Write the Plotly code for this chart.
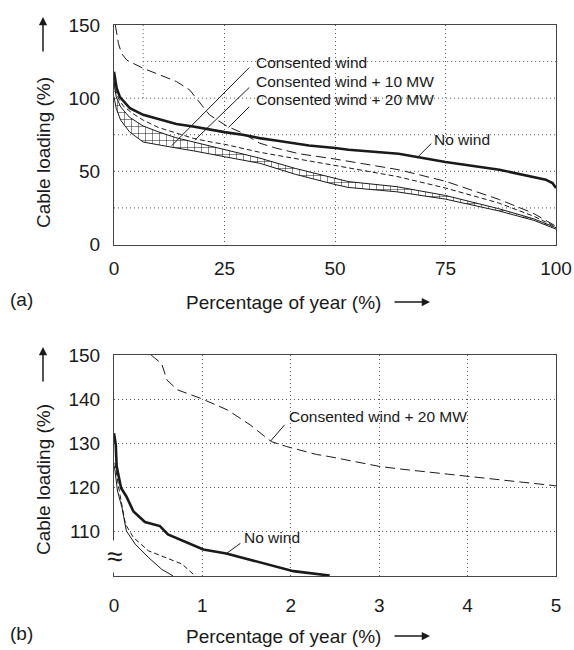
import plotly.graph_objects as go

# ---------------- data: panel (a) ----------------
a_nowind_x = [0, 0.6, 1.35, 3.6, 6.6, 10.4, 14.1, 17.9, 21.6, 25, 29.1, 32.9, 36.6, 40.4, 44.1, 50, 53.1, 64.4, 75, 87.2, 94.7, 97.7, 99.2, 100]
a_nowind_y = [118, 106.8, 100.7, 93.1, 88.6, 85.2, 82.4, 80.7, 78.4, 76.8, 75.0, 72.7, 71.1, 69.2, 67.7, 65.9, 64.7, 62, 56.4, 51.1, 46.6, 44.3, 42, 38.6]

a_cw_x = [0, 0.5, 1.5, 3.5, 6.6, 10, 14, 18, 22, 25, 33, 41, 50, 53, 64, 75, 87, 95, 100]
a_cw_hi = [110, 101, 94, 87, 81, 77, 73, 70, 67, 65, 59, 52, 45, 43, 39.5, 33.5, 24.5, 17.5, 11.5]
a_cw_lo = [101, 93, 85, 77, 70, 68, 66, 64, 62, 60, 55.5, 48, 41, 39, 36, 31, 23, 16.5, 10.5]

a_cw10_x = [0, 0.3, 1, 2, 4, 6.6, 10, 14, 18, 22, 25, 33, 42, 50, 64, 75, 87, 95, 100]
a_cw10_y = [112, 106, 100, 95, 90, 85, 80, 76, 72.5, 70, 68.5, 63, 58, 54, 46.5, 38.6, 28.4, 19.3, 12]

a_cw20_x = [0.3, 1, 1.7, 2.9, 6.6, 10.4, 14.1, 17.1, 19.4, 21.6, 25.4, 29.1, 32.9, 36.6, 41.9, 50, 64.4, 75, 87.2, 94.7, 100]
a_cw20_y = [150, 137.5, 130.6, 126, 120.4, 115.9, 111.4, 105.7, 96.6, 88.6, 81.1, 76.1, 69.3, 65.9, 62, 58.4, 51.1, 43.2, 30.7, 21.6, 12.5]

# ---------------- data: panel (b) ----------------
b_nowind_x = [0, 0.02, 0.03, 0.08, 0.14, 0.22, 0.35, 0.52, 0.61, 0.78, 1.01, 1.27, 1.54, 1.8, 2.03, 2.44]
b_nowind_y = [132.3, 129.7, 124.8, 119.9, 118, 114.6, 112.2, 111.3, 109.4, 107.9, 106, 105.1, 103.7, 102.2, 101.1, 100.1]

b_cw_x = [0, 0.01, 0.04, 0.09, 0.14, 0.24, 0.39, 0.54, 0.67]
b_cw_y = [125, 124, 119.2, 115.5, 110.2, 107.2, 104.2, 101.5, 100]

b_cw10_x = [0.01, 0.06, 0.13, 0.22, 0.39, 0.58, 0.77, 0.92]
b_cw10_y = [125.6, 119.2, 111.7, 108.7, 105.7, 104.2, 102.7, 100]

b_cw20_x = [0.42, 0.54, 0.6, 0.72, 0.98, 1.28, 1.54, 1.78, 1.95, 2.29, 2.44, 3.0, 3.24, 4.0, 5.0]
b_cw20_y = [150, 148, 144.3, 142.1, 140.2, 137.6, 134.2, 130.4, 129.3, 127.5, 127, 124.8, 124.2, 122.6, 120.4]

# tick / grid definitions
a_xticks = [0, 25, 50, 75, 100]
a_yticks = [0, 50, 100, 150]
a_ygrid = [25, 50, 75, 100]
a_inset_x = 6.6
b_xticks = [0, 1, 2, 3, 4, 5]
b_yticks = [110, 120, 130, 140, 150]

# ---------------- figure ----------------
W, H = 574, 650
FONT = "Liberation Sans, Arial, sans-serif"
INK = "#1a1a1a"
GRID = "#555555"
GDASH = "1px,3px"

def px(x):
    return x / W

def py(y):
    return 1 - y / H

fig = go.Figure()

line_thin = dict(color=INK, width=1)

# panel (a)
fig.add_trace(go.Scatter(x=a_cw_x, y=a_cw_lo, mode="lines", line=line_thin,
                         xaxis="x", yaxis="y", showlegend=False))
fig.add_trace(go.Scatter(x=a_cw_x, y=a_cw_hi, mode="lines", line=line_thin,
                         fill="tonexty", fillcolor="white",
                         fillpattern=dict(shape="+", size=7, solidity=0.14,
                                          fgcolor=INK, bgcolor="white", fillmode="replace"),
                         xaxis="x", yaxis="y", showlegend=False))
fig.add_trace(go.Scatter(x=a_cw10_x, y=a_cw10_y, mode="lines",
                         line=dict(color=INK, width=1, dash="5px,3px"),
                         xaxis="x", yaxis="y", showlegend=False))
fig.add_trace(go.Scatter(x=a_cw20_x, y=a_cw20_y, mode="lines",
                         line=dict(color=INK, width=1, dash="10px,5px"),
                         xaxis="x", yaxis="y", showlegend=False))
fig.add_trace(go.Scatter(x=a_nowind_x, y=a_nowind_y, mode="lines",
                         line=dict(color=INK, width=2.6),
                         xaxis="x", yaxis="y", showlegend=False))

# panel (b)
fig.add_trace(go.Scatter(x=b_cw_x, y=b_cw_y, mode="lines", line=line_thin,
                         xaxis="x2", yaxis="y2", showlegend=False))
fig.add_trace(go.Scatter(x=b_cw10_x, y=b_cw10_y, mode="lines",
                         line=dict(color=INK, width=1, dash="5px,3px"),
                         xaxis="x2", yaxis="y2", showlegend=False))
fig.add_trace(go.Scatter(x=b_cw20_x, y=b_cw20_y, mode="lines",
                         line=dict(color=INK, width=1, dash="10px,5px"),
                         xaxis="x2", yaxis="y2", showlegend=False))
fig.add_trace(go.Scatter(x=b_nowind_x, y=b_nowind_y, mode="lines",
                         line=dict(color=INK, width=2.6),
                         xaxis="x2", yaxis="y2", showlegend=False))

xdom = [px(114), px(556)]
axis_common = dict(showline=True, linecolor="#444444", linewidth=1, mirror=True,
                   ticks="", zeroline=False, automargin=False,
                   tickfont=dict(family=FONT, size=19, color=INK))

fig.update_layout(
    width=W, height=H,
    margin=dict(l=0, r=0, t=0, b=0, autoexpand=False),
    paper_bgcolor="white", plot_bgcolor="white",
    font=dict(family=FONT, color=INK),
    xaxis=dict(domain=xdom, range=[0, 100], tickvals=a_xticks, anchor="y",
               showgrid=True, gridcolor=GRID, griddash=GDASH, gridwidth=1,
               ticklabelstandoff=7, **axis_common),
    yaxis=dict(domain=[py(244.5), py(25)], range=[0, 150], tickvals=a_yticks, anchor="x",
               showgrid=False, ticklabelstandoff=9, **axis_common),
    xaxis2=dict(domain=xdom, range=[0, 5], tickvals=b_xticks, anchor="y2",
                showgrid=True, gridcolor=GRID, griddash=GDASH, gridwidth=1,
                ticklabelstandoff=12, **axis_common),
    yaxis2=dict(domain=[py(576), py(355)], range=[100, 150], tickvals=b_yticks, anchor="x2",
                showgrid=True, gridcolor=GRID, griddash=GDASH, gridwidth=1,
                ticklabelstandoff=9, **axis_common),
)

# y grid for panel (a) (the 125 line only right of the inset line)
shapes = []
for g in a_ygrid:
    shapes.append(dict(type="line", xref="x", yref="y", x0=0, x1=100, y0=g, y1=g,
                       line=dict(color=GRID, width=1, dash=GDASH), layer="below"))
shapes.append(dict(type="line", xref="x", yref="y", x0=a_inset_x, x1=100, y0=125, y1=125,
                   line=dict(color=GRID, width=1, dash=GDASH), layer="below"))
shapes.append(dict(type="line", xref="x", yref="y", x0=a_inset_x, x1=a_inset_x, y0=100, y1=150,
                   line=dict(color=GRID, width=1, dash=GDASH), layer="below"))

ann = []
LBL = dict(family=FONT, size=15.5, color=INK)

# labels panel (a)
for txt, yv in [("Consented wind", 124.1), ("Consented wind + 10 MW", 111.3), ("Consented wind + 20 MW", 98.9)]:
    ann.append(dict(x=31.6, y=yv, xref="x", yref="y", text=txt, showarrow=False,
                    xanchor="left", yanchor="middle", font=LBL))
ann.append(dict(x=72.0, y=72, xref="x", yref="y", text="No wind", showarrow=False,
                xanchor="left", yanchor="middle", font=LBL))

# leader lines panel (a)
leaders_a = [((30.6, 120.9), (13.05, 67.5)), ((30.6, 107.3), (18.3, 71.4)),
             ((30.6, 94.1), (25.9, 80.0)), ((71.8, 69.0), (68.8, 60.0))]
for (x0, y0), (x1, y1) in leaders_a:
    shapes.append(dict(type="line", xref="x", yref="y", x0=x0, y0=y0, x1=x1, y1=y1,
                       line=dict(color=INK, width=1)))

# labels panel (b)
ann.append(dict(x=1.96, y=136, xref="x2", yref="y2", text="Consented wind + 20 MW",
                showarrow=False, xanchor="left", yanchor="middle", font=LBL))
ann.append(dict(x=1.45, y=108.7, xref="x2", yref="y2", text="No wind",
                showarrow=False, xanchor="left", yanchor="middle", font=LBL))
leaders_b = [((1.93, 134.2), (1.77, 130.5)), ((1.43, 107.4), (1.28, 105.2))]
for (x0, y0), (x1, y1) in leaders_b:
    shapes.append(dict(type="line", xref="x2", yref="y2", x0=x0, y0=y0, x1=x1, y1=y1,
                       line=dict(color=INK, width=1)))
fig.update_layout(shapes=shapes)

# axis break symbol on panel (b)
ann.append(dict(x=0, y=104.4, xref="x2", yref="y2", text="≈", showarrow=False,
                xanchor="center", yanchor="middle", bgcolor="white", borderpad=0,
                font=dict(family=FONT, size=28, color=INK)))

# axis titles and panel letters
TF = dict(family=FONT, size=19, color=INK)
for ycen, yarrow_head, title_y, letter, letter_y in [(153, 17, 302, "(a)", 299), (480, 347, 636, "(b)", 633)]:
    ann.append(dict(x=px(43), y=py(ycen), xref="paper", yref="paper", text="Cable loading (%)",
                    textangle=-90, showarrow=False, xanchor="center", yanchor="middle", font=TF))
    ann.append(dict(x=px(43), y=py(yarrow_head), xref="paper", yref="paper", text="",
                    showarrow=True, ax=0, ay=36, axref="pixel", ayref="pixel",
                    arrowhead=2, arrowsize=1.1, arrowwidth=1.5, arrowcolor=INK))
    ann.append(dict(x=px(283), y=py(title_y), xref="paper", yref="paper", text="Percentage of year (%)",
                    showarrow=False, xanchor="center", yanchor="middle", font=TF))
    ann.append(dict(x=px(430), y=py(title_y), xref="paper", yref="paper", text="",
                    showarrow=True, ax=-37, ay=0, axref="pixel", ayref="pixel",
                    arrowhead=2, arrowsize=1.1, arrowwidth=1.5, arrowcolor=INK))
    ann.append(dict(x=px(8), y=py(letter_y), xref="paper", yref="paper", text=letter,
                    showarrow=False, xanchor="left", yanchor="middle", font=TF))

fig.update_layout(annotations=ann)
fig.write_html("out.html")
